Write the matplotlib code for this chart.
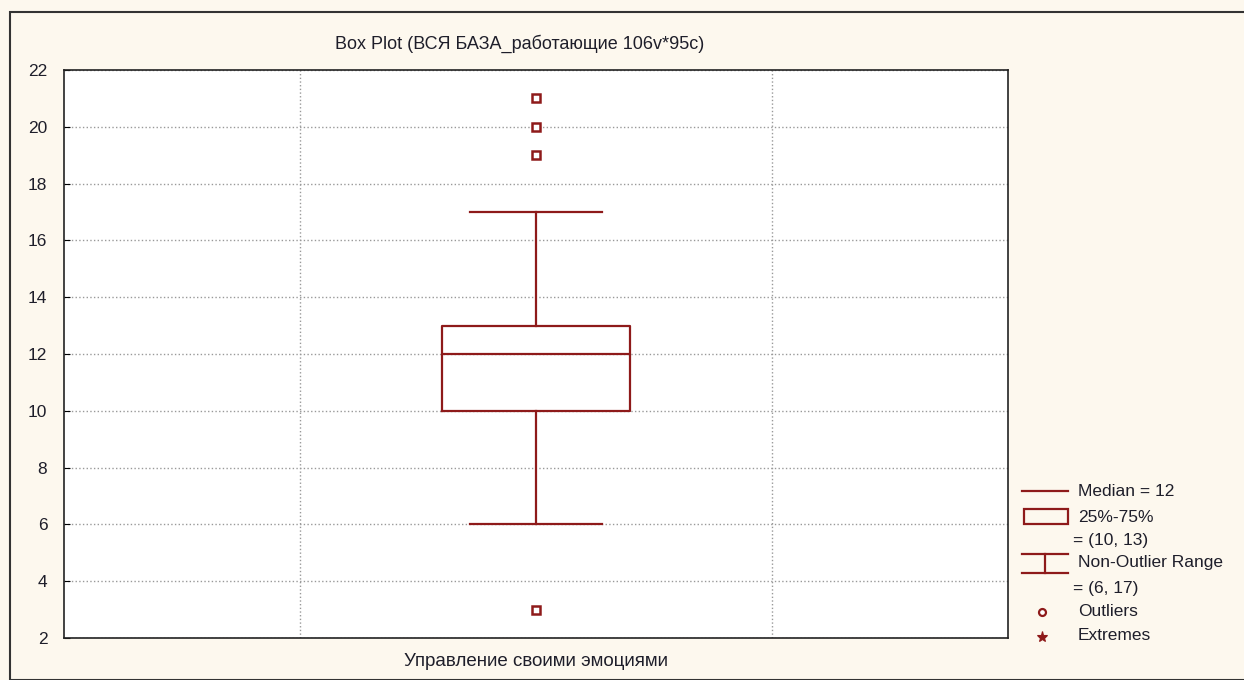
import matplotlib.pyplot as plt
from matplotlib.patches import Rectangle
from matplotlib.lines import Line2D

# data
category = "Управление своими эмоциями"
median = 12
q1, q3 = 10, 13
whisker_low, whisker_high = 6, 17
outliers = [3, 19, 20, 21]
yticks = [2, 4, 6, 8, 10, 12, 14, 16, 18, 20, 22]

red = '#8E1A1A'
bg = '#FDF8EE'
txt = '#1E1E2A'
plt.rcParams['font.family'] = ['Liberation Sans', 'DejaVu Sans']
plt.rcParams['text.color'] = txt

fig = plt.figure(figsize=(12.44, 6.8), dpi=100, facecolor=bg)
W, H = 1244, 680
ax = fig.add_axes([64 / W, 1 - 638 / H, 944 / W, 568 / H])
ax.set_facecolor('white')

stats = [{
    'med': median, 'q1': q1, 'q3': q3,
    'whislo': whisker_low, 'whishi': whisker_high,
    'fliers': outliers, 'label': category,
}]
ax.bxp(stats, positions=[2], widths=0.8, showfliers=True,
       boxprops=dict(color=red, linewidth=1.6),
       medianprops=dict(color=red, linewidth=1.6),
       whiskerprops=dict(color=red, linewidth=1.6),
       capprops=dict(color=red, linewidth=1.6),
       capwidths=0.56,
       flierprops=dict(marker='s', markersize=5.5, markerfacecolor='white',
                       markeredgecolor=red, markeredgewidth=1.8))

ax.set_xlim(0, 4)
ax.set_ylim(2, 22)
ax.set_yticks(yticks)
ax.set_xticks([2])
ax.set_xticklabels([category], fontsize=13.5, color=txt)
ax.set_xticks([1, 2, 3], minor=True)
ax.tick_params(axis='x', which='both', length=0, pad=11)
ax.tick_params(axis='y', direction='in', length=4, labelsize=12.5,
               labelcolor=txt, pad=12)
ax.grid(True, which='minor', axis='x', color='#999999', linestyle=':', linewidth=1)
ax.grid(True, which='major', axis='y', color='#999999', linestyle=':', linewidth=1)
ax.set_axisbelow(True)
for s in ax.spines.values():
    s.set_linewidth(1.2)
    s.set_color('#222222')

fig.text(520 / W, 1 - 44 / H, "Box Plot (ВСЯ БАЗА_работающие 106v*95c)",
         ha='center', va='center', fontsize=13)

# figure frame
fig.patches.append(Rectangle((10 / W, 0), (W - 5) / W, 1 - 12 / H,
                             transform=fig.transFigure, fill=False,
                             edgecolor='#333333', linewidth=1.5))

# legend drawn by hand
def fx(x):
    return x / W

def fy(y):
    return 1 - y / H

fig.add_artist(Line2D([fx(1022), fx(1068)], [fy(491), fy(491)], color=red, lw=1.6))
fig.patches.append(Rectangle((fx(1024), fy(524)), fx(44), 15 / H,
                             transform=fig.transFigure, fill=False,
                             edgecolor=red, linewidth=1.6))
fig.add_artist(Line2D([fx(1022), fx(1068)], [fy(554), fy(554)], color=red, lw=1.6))
fig.add_artist(Line2D([fx(1022), fx(1068)], [fy(573), fy(573)], color=red, lw=1.6))
fig.add_artist(Line2D([fx(1045), fx(1045)], [fy(554), fy(573)], color=red, lw=1.6))
fig.add_artist(Line2D([fx(1042)], [fy(612)], marker='o', markersize=5,
                      markerfacecolor='white', markeredgecolor=red, markeredgewidth=1.6))
fig.add_artist(Line2D([fx(1042)], [fy(637)], marker='*', markersize=8,
                      color=red, markeredgewidth=0.8))

legend_texts = [
    (1078, 491, "Median = 12"),
    (1078, 517, "25%-75%"),
    (1073, 540, "= (10, 13)"),
    (1078, 563, "Non-Outlier Range"),
    (1073, 588, "= (6, 17)"),
    (1078, 612, "Outliers"),
    (1078, 636, "Extremes"),
]
for x, y, t in legend_texts:
    fig.text(fx(x), fy(y), t, ha='left', va='center', fontsize=12.5)

fig.savefig('out.png', dpi=100, facecolor=bg)
